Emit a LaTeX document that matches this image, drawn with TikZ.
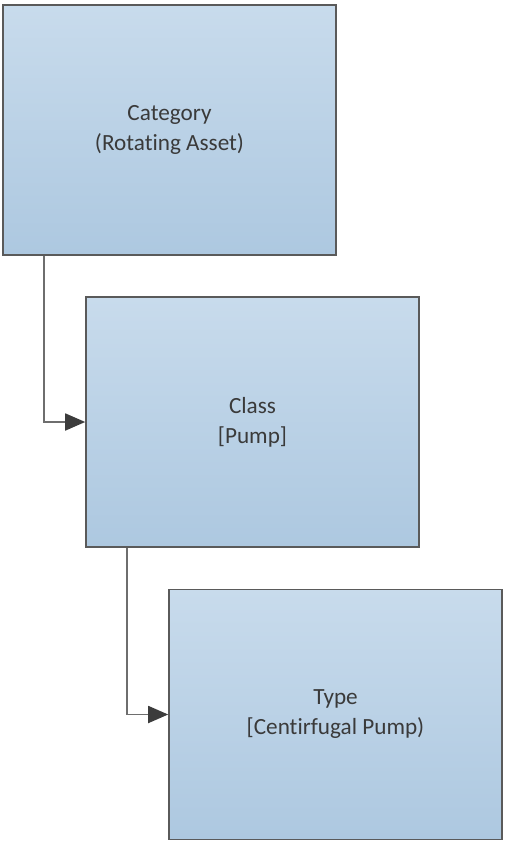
\documentclass[tikz,border=0pt]{standalone}
\usepackage{fontspec}
\setmainfont[Ligatures=NoCommon]{Carlito}
\usetikzlibrary{arrows.meta}
\definecolor{boxtop}{HTML}{C8DBEC}
\definecolor{boxbot}{HTML}{ADC8E0}
\definecolor{boxline}{HTML}{5A5A5A}
\definecolor{conline}{HTML}{6E6E6E}
\definecolor{tipcol}{HTML}{3C3C3C}
\definecolor{txtcol}{HTML}{3A3A3A}
\tikzset{
  hbox/.style={draw=boxline, line width=1.6pt, top color=boxtop, bottom color=boxbot,
    minimum width=333pt, minimum height=250pt, inner sep=0pt, align=center,
    font=\fontsize{23.2}{30}\selectfont, text=txtcol},
  conn/.style={draw=conline, line width=1.8pt,
    -{Triangle[length=20pt,width=17pt,fill=tipcol,color=tipcol]}}
}
\begin{document}
\begin{tikzpicture}[x=1pt,y=-1pt]
\useasboundingbox (0,0) rectangle (506,842);
\node[hbox] (cat) at (169.5,130) {Category\\(Rotating Asset)};
\node[hbox] (cls) at (252.5,422) {Class\\{}[Pump]};
\node[hbox] (typ) at (335.5,714.5) {Type\\{}[Centirfugal Pump)};
\coordinate (c1) at (44,0);
\coordinate (c2) at (127,0);
\draw[conn] (cat.south -| c1) |- (cls.west);
\draw[conn] (cls.south -| c2) |- (typ.west);
\end{tikzpicture}
\end{document}
